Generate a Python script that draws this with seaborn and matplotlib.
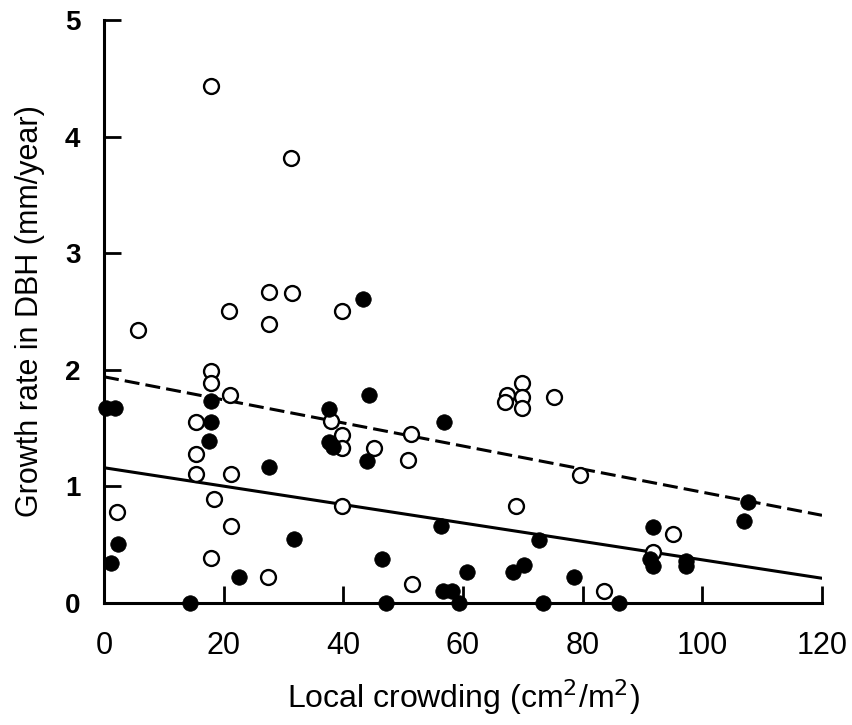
import numpy as np
import pandas as pd
import seaborn as sns
import matplotlib.pyplot as plt

# Open circles
open_x = [17.8, 31.2, 5.7, 20.9, 27.5, 31.4, 27.5, 39.8,
          17.8, 17.8, 15.3, 15.3, 15.3, 21.3, 18.4, 21.3, 17.8, 27.4, 21.1, 2.1,
          37.9, 39.8, 39.8, 39.8, 45.2, 51.3, 50.8, 51.4,
          67.4, 67.1, 69.9, 69.9, 69.9, 75.2, 79.6, 68.8, 83.6, 95.1, 91.8]
open_y = [4.43, 3.82, 2.34, 2.50, 2.67, 2.66, 2.39, 2.50,
          1.99, 1.89, 1.55, 1.28, 1.11, 1.11, 0.89, 0.66, 0.39, 0.22, 1.78, 0.78,
          1.56, 1.44, 1.33, 0.83, 1.33, 1.45, 1.23, 0.16,
          1.78, 1.72, 1.89, 1.77, 1.67, 1.77, 1.10, 0.83, 0.10, 0.59, 0.44]

# Filled circles
filled_x = [0.4, 1.8, 2.3, 1.2, 14.4, 17.9, 17.8, 17.6, 22.5, 27.6, 31.8,
            37.6, 37.6, 38.2, 43.2, 44.3, 43.9, 56.8, 56.4, 72.7, 46.4, 60.7,
            68.3, 70.2, 78.5, 56.7, 58.2, 47.1, 59.3, 73.3, 86.1,
            107.6, 106.9, 91.7, 91.2, 91.7, 97.2, 97.2]
filled_y = [1.67, 1.67, 0.51, 0.34, 0.0, 1.73, 1.55, 1.39, 0.22, 1.17, 0.55,
            1.66, 1.38, 1.34, 2.61, 1.78, 1.22, 1.55, 0.66, 0.54, 0.38, 0.27,
            0.27, 0.33, 0.22, 0.10, 0.10, 0.0, 0.0, 0.0, 0.0,
            0.87, 0.70, 0.65, 0.38, 0.32, 0.36, 0.32]

# regression lines (intercept, slope)
open_fit = (1.94, -0.0099)
filled_fit = (1.16, -0.0079)

sns.set_style("ticks")
plt.rcParams['font.family'] = ['Liberation Sans', 'DejaVu Sans']
plt.rcParams['text.color'] = 'black'
plt.rcParams['axes.labelcolor'] = 'black'
plt.rcParams['xtick.color'] = 'black'
plt.rcParams['ytick.color'] = 'black'
plt.rcParams['axes.edgecolor'] = 'black'

fig = plt.figure(figsize=(8.52, 7.25), dpi=100)
ax = fig.add_axes([0.1221, 0.1683, 0.8427, 0.8041])

df_open = pd.DataFrame({'x': open_x, 'y': open_y})
df_filled = pd.DataFrame({'x': filled_x, 'y': filled_y})

xl = np.array([0, 120])
ax.plot(xl, open_fit[0] + open_fit[1] * xl, color='black', lw=2.2,
        dashes=(4.9, 2.0), zorder=2)
ax.plot(xl, filled_fit[0] + filled_fit[1] * xl, color='black', lw=2.2, zorder=2)

sns.scatterplot(data=df_open, x='x', y='y', ax=ax, s=115, facecolor='white',
                edgecolor='black', linewidth=1.7, clip_on=False, zorder=3)
sns.scatterplot(data=df_filled, x='x', y='y', ax=ax, s=125, color='black',
                edgecolor='black', linewidth=0.5, clip_on=False, zorder=4)

ax.set_xlim(0, 120)
ax.set_ylim(0, 5)
ax.set_xticks([0, 20, 40, 60, 80, 100, 120])
ax.set_yticks([0, 1, 2, 3, 4, 5])
sns.despine(ax=ax)
for s in ['left', 'bottom']:
    ax.spines[s].set_linewidth(2.2)
ax.tick_params(direction='in', length=12, width=2.0)
ax.tick_params(axis='x', labelsize=22, pad=20)
ax.tick_params(axis='y', labelsize=20, pad=17)
for lab in ax.get_yticklabels():
    lab.set_fontweight('bold')

ax.set_xlabel('Local crowding (cm$^2$/m$^2$)', fontsize=23, labelpad=12)
ax.set_ylabel('Growth rate in DBH (mm/year)', fontsize=22, labelpad=14)

plt.savefig('out.png', dpi=100)
